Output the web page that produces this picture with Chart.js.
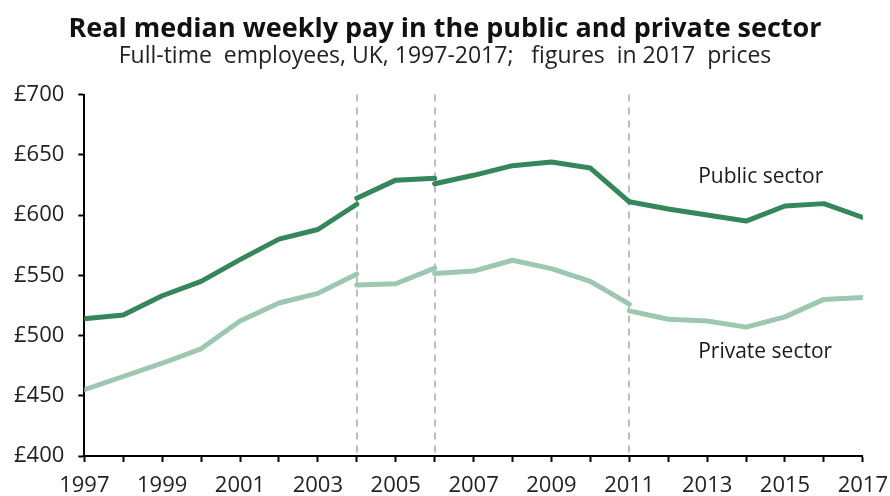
<!DOCTYPE html>
<html>
<head>
<meta charset="utf-8">
<script src="https://cdn.jsdelivr.net/npm/chart.js@4"></script>
<style>
  html, body { margin: 0; padding: 0; background: #ffffff; }
  #wrap { width: 890px; height: 496px; }
</style>
</head>
<body>
<div id="wrap"><canvas id="payChart"></canvas></div>
<script>
const publicColor = "#35865b";
const privateColor = "#9dc7b0";
const fontFamily = "'Open Sans', 'Noto Sans', sans-serif";

// series are broken where the survey methodology changes
const breakYears = [2004, 2006, 2011];

const yearsA = [1997, 1998, 1999, 2000, 2001, 2002, 2003, 2004];
const publicA = [514, 517, 533, 545, 563, 580, 588, 609];
const privateA = [455, 466, 477, 489, 512, 527, 535, 551];

const yearsB = [2004, 2005, 2006];
const publicB = [614, 629, 630.5];
const privateB = [542, 543, 556];

const yearsC = [2006, 2007, 2008, 2009, 2010, 2011];
const publicC = [626, 633, 641, 644, 639, 611];
const privateC = [551.5, 553.5, 562.5, 555.5, 545, 526];

const yearsD = [2011, 2012, 2013, 2014, 2015, 2016, 2017];
const publicD = [611, 605, 600, 595, 607.5, 609.5, 598];
const privateD = [520.5, 513.5, 512, 507, 515.5, 530, 531.5];

const yTicks = [400, 450, 500, 550, 600, 650, 700];

const seriesLabels = [
  { text: "Public sector", year: 2012.77, value: 632 },
  { text: "Private sector", year: 2012.77, value: 486 },
];

function segment(years, values, color) {
  return {
    data: years.map((y, i) => ({ x: y, y: values[i] })),
    borderColor: color,
    borderWidth: 5,
    borderCapStyle: "round",
    borderJoinStyle: "round",
    pointRadius: 0,
    fill: false,
    tension: 0,
  };
}

const breakLines = {
  id: "breakLines",
  beforeDatasetsDraw(chart) {
    const { ctx, chartArea, scales } = chart;
    ctx.save();
    ctx.strokeStyle = "#bdbdbd";
    ctx.lineWidth = 2;
    ctx.setLineDash([7, 6]);
    breakYears.forEach(year => {
      const x = Math.round(scales.x.getPixelForValue(year));
      ctx.beginPath();
      ctx.moveTo(x, chartArea.top);
      ctx.lineTo(x, chartArea.bottom);
      ctx.stroke();
    });
    ctx.restore();
  },
};

const lineLabels = {
  id: "lineLabels",
  afterDatasetsDraw(chart) {
    const { ctx, scales } = chart;
    ctx.save();
    ctx.font = "21px " + fontFamily;
    ctx.textAlign = "left";
    ctx.textBaseline = "middle";
    ctx.fillStyle = "#1a1a1a";
    seriesLabels.forEach(label => {
      ctx.fillText(label.text, scales.x.getPixelForValue(label.year), scales.y.getPixelForValue(label.value));
    });
    ctx.restore();
  },
};

new Chart(document.getElementById("payChart").getContext("2d"), {
  type: "line",
  data: {
    datasets: [
      segment(yearsA, publicA, publicColor),
      segment(yearsB, publicB, publicColor),
      segment(yearsC, publicC, publicColor),
      segment(yearsD, publicD, publicColor),
      segment(yearsA, privateA, privateColor),
      segment(yearsB, privateB, privateColor),
      segment(yearsC, privateC, privateColor),
      segment(yearsD, privateD, privateColor),
    ],
  },
  options: {
    animation: false,
    responsive: true,
    maintainAspectRatio: false,
    events: [],
    layout: {
      // tall year-label line box pushes the labels down; let it run off the bottom
      padding: { top: 0, right: 0, bottom: -14, left: 0 },
    },
    plugins: {
      legend: { display: false },
      tooltip: { enabled: false },
      title: {
        display: true,
        text: "Real median weekly pay in the public and private sector",
        color: "#111111",
        font: { family: fontFamily, size: 27, weight: "bold", lineHeight: 1 },
        padding: { top: 16, bottom: 0 },
      },
      subtitle: {
        display: true,
        text: "Full-time  employees, UK, 1997-2017;   figures  in 2017  prices",
        color: "#222222",
        font: { family: fontFamily, size: 23 },
        padding: { top: 0, bottom: 24 },
      },
    },
    scales: {
      x: {
        type: "linear",
        min: 1997,
        max: 2017,
        grid: {
          display: true,
          drawOnChartArea: false,
          drawTicks: true,
          tickLength: 6,
          tickColor: "#000000",
          tickWidth: 2,
        },
        border: { color: "#000000", width: 2 },
        ticks: {
          stepSize: 1,
          autoSkip: false,
          maxRotation: 0,
          padding: 2,
          color: "#222222",
          font: { family: fontFamily, size: 22, lineHeight: 2 },
          callback: value => ((value - 1997) % 2 === 0 ? String(value) : ""),
        },
      },
      y: {
        min: 400,
        max: 700,
        afterBuildTicks: axis => {
          axis.ticks = yTicks.map(v => ({ value: v }));
        },
        grid: {
          display: true,
          drawOnChartArea: false,
          drawTicks: true,
          tickLength: 6,
          tickColor: "#000000",
          tickWidth: 2,
        },
        border: { color: "#000000", width: 2 },
        ticks: {
          padding: 14,
          color: "#222222",
          font: { family: fontFamily, size: 22 },
          callback: value => "£" + value,
        },
      },
    },
  },
  plugins: [breakLines, lineLabels],
});
</script>
</body>
</html>
